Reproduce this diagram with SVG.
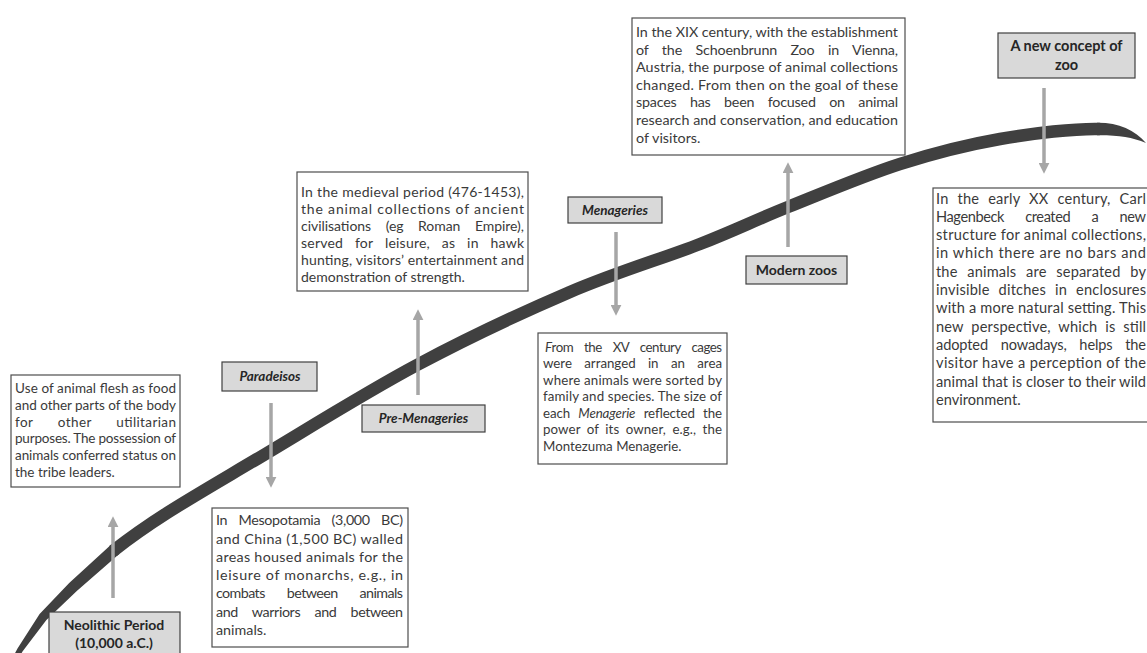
<svg xmlns="http://www.w3.org/2000/svg" width="1147" height="653" viewBox="0 0 1147 653">
<defs>
<style>
.t{font-family:Lato,"Liberation Sans",sans-serif;fill:#3a3a3a}
.box{fill:#ffffff;stroke:#4d4d4d;stroke-width:1.2}
.lab{fill:#d9d9d9;stroke:#404040;stroke-width:1.2}
.lt{font-family:Lato,"Liberation Sans",sans-serif;font-weight:bold;fill:#262626;text-anchor:middle}
.it{font-style:italic}
.arr{stroke:#a6a6a6;stroke-width:3.5;fill:none}
.tl{fill:#404040}
</style>
<marker id="ah" viewBox="0 0 10 10" refX="2" refY="5" markerWidth="11" markerHeight="11" markerUnits="userSpaceOnUse" orient="auto">
<path d="M0,0 L10,5 L0,10 z" fill="#a6a6a6"/>
</marker>
</defs>
<rect width="1147" height="653" fill="#ffffff"/>

<g id="timeline">
<path class="tl" d="M5.8,670.8 L17.5,648.4 L39.6,614.1 L69.2,583 L111.5,544.2 L119.3,554 L116.9,555.9 L76.8,591 L46.4,619.9 L22.5,651.6 L10.2,673.2 Z"/>
<path fill="none" stroke="#404040" stroke-width="12.5" d="M113,551 C128.7,538.7 143,528.3 167,513 C191,497.7 215.3,483.7 257,459 C298.7,434.3 364.8,392.8 417,365 C469.2,337.2 522.8,312.2 570,292 C617.2,271.8 663.7,258.2 700,244 C736.3,229.8 754.7,220.3 788,207 C821.3,193.7 864.7,175.3 900,164 C935.3,152.7 966.7,144.8 1000,139 C1033.3,133.2 1075.7,128.3 1100,129"/>
<path class="tl" d="M1097,122.8 C1118,122.5 1135,130 1146,143 C1132,137 1118,135 1097,135.2 Z"/>
</g>

<g id="connectors">
<line class="arr" x1="113" y1="598" x2="113" y2="525" marker-end="url(#ah)"/>
<line class="arr" x1="271" y1="403" x2="271" y2="479" marker-end="url(#ah)"/>
<line class="arr" x1="418" y1="395" x2="418" y2="318" marker-end="url(#ah)"/>
<line class="arr" x1="616" y1="232" x2="616" y2="307" marker-end="url(#ah)"/>
<line class="arr" x1="788" y1="247" x2="788" y2="171" marker-end="url(#ah)"/>
<line class="arr" x1="1044" y1="88" x2="1044" y2="165" marker-end="url(#ah)"/>
</g>

<g id="neolithic-label">
<rect class="lab" x="49" y="612" width="131" height="50"/>
<text class="lt" x="114" y="630" font-size="14">Neolithic Period</text>
<text class="lt" x="114" y="648" font-size="14">(10,000 a.C.)</text>
</g>

<g id="neolithic-text" font-size="13.5">
<rect class="box" x="11" y="375" width="169" height="112"/>
<text class="t" x="15" y="393" textLength="161" lengthAdjust="spacing">Use of animal flesh as food</text>
<text class="t" x="15" y="410" textLength="161" lengthAdjust="spacing">and other parts of the body</text>
<text class="t" x="15" y="426.5" textLength="161" lengthAdjust="spacing" style="word-spacing:21px">for other utilitarian</text>
<text class="t" x="15" y="443" textLength="161" lengthAdjust="spacing">purposes. The possession of</text>
<text class="t" x="15" y="460" textLength="161" lengthAdjust="spacing">animals conferred status on</text>
<text class="t" x="15" y="477">the tribe leaders.</text>
</g>

<g id="paradeisos-label">
<rect class="lab" x="222" y="362" width="95" height="29"/>
<text class="lt it" x="270" y="381" font-size="13.5">Paradeisos</text>
</g>

<g id="paradeisos-text" font-size="14.3">
<rect class="box" x="212" y="508" width="196" height="139"/>
<text class="t" x="216" y="525" textLength="187" lengthAdjust="spacing" style="word-spacing:8px">In Mesopotamia (3,000 BC)</text>
<text class="t" x="216" y="543.5" textLength="187" lengthAdjust="spacing">and China (1,500 BC) walled</text>
<text class="t" x="216" y="561.5" textLength="187" lengthAdjust="spacing">areas housed animals for the</text>
<text class="t" x="216" y="580" textLength="187" lengthAdjust="spacing">leisure of monarchs, e.g., in</text>
<text class="t" x="216" y="598" textLength="187" lengthAdjust="spacing" style="word-spacing:19px">combats between animals</text>
<text class="t" x="216" y="616.5" textLength="187" lengthAdjust="spacing" style="word-spacing:11px">and warriors and between</text>
<text class="t" x="216" y="634.5">animals.</text>
</g>

<g id="premenageries-label">
<rect class="lab" x="362" y="405" width="123" height="27"/>
<text class="lt it" x="423.5" y="423" font-size="13.5">Pre-Menageries</text>
</g>

<g id="premenageries-text" font-size="14">
<rect class="box" x="297" y="172" width="231" height="119"/>
<text class="t" x="301" y="197" textLength="223" lengthAdjust="spacing">In the medieval period (476-1453),</text>
<text class="t" x="301" y="214" textLength="223" lengthAdjust="spacing">the animal collections of ancient</text>
<text class="t" x="301" y="231" textLength="223" lengthAdjust="spacing" style="word-spacing:11px">civilisations (eg Roman Empire),</text>
<text class="t" x="301" y="248" textLength="223" lengthAdjust="spacing" style="word-spacing:8px">served for leisure, as in hawk</text>
<text class="t" x="301" y="265" textLength="223" lengthAdjust="spacing">hunting, visitors’ entertainment and</text>
<text class="t" x="301" y="282">demonstration of strength.</text>
</g>

<g id="menageries-label">
<rect class="lab" x="568" y="197" width="94" height="26"/>
<text class="lt it" x="615" y="215" font-size="13.5">Menageries</text>
</g>

<g id="menageries-text" font-size="13.3">
<rect class="box" x="538" y="333" width="189" height="131"/>
<text class="t" x="545" y="351.5" textLength="177" lengthAdjust="spacing" style="word-spacing:8px"><tspan class="it">F</tspan>rom the XV century cages</text>
<text class="t" x="543" y="368" textLength="179" lengthAdjust="spacing" style="word-spacing:9px">were arranged in an area</text>
<text class="t" x="543" y="384.5" textLength="179" lengthAdjust="spacing">where animals were sorted by</text>
<text class="t" x="543" y="401" textLength="179" lengthAdjust="spacing">family and species. The size of</text>
<text class="t" x="543" y="417.5" textLength="179" lengthAdjust="spacing" style="word-spacing:5px">each <tspan class="it">Menagerie</tspan> reflected the</text>
<text class="t" x="543" y="434" textLength="179" lengthAdjust="spacing" style="word-spacing:3px">power of its owner, e.g., the</text>
<text class="t" x="543" y="450.5">Montezuma Menagerie.</text>
</g>

<g id="modern-label">
<rect class="lab" x="746" y="256" width="101" height="28"/>
<text class="lt" x="796.5" y="275" font-size="14">Modern zoos</text>
</g>

<g id="modern-text" font-size="14.3">
<rect class="box" x="632" y="18" width="273" height="137"/>
<text class="t" x="636" y="37" textLength="262" lengthAdjust="spacing">In the XIX century, with the establishment</text>
<text class="t" x="636" y="54.6" textLength="262" lengthAdjust="spacing" style="word-spacing:10px">of the Schoenbrunn Zoo in Vienna,</text>
<text class="t" x="636" y="72.2" textLength="262" lengthAdjust="spacing">Austria, the purpose of animal collections</text>
<text class="t" x="636" y="89.8" textLength="262" lengthAdjust="spacing">changed. From then on the goal of these</text>
<text class="t" x="636" y="107.4" textLength="262" lengthAdjust="spacing" style="word-spacing:10px">spaces has been focused on animal</text>
<text class="t" x="636" y="125" textLength="262" lengthAdjust="spacing">research and conservation, and education</text>
<text class="t" x="636" y="142.6">of visitors.</text>
</g>

<g id="newconcept-label">
<rect class="lab" x="998" y="33" width="137" height="45"/>
<text class="lt" x="1066.5" y="51" font-size="14.5">A new concept of</text>
<text class="lt" x="1066.5" y="70" font-size="14.5">zoo</text>
</g>

<g id="newconcept-text" font-size="14.6">
<rect class="box" x="933" y="188" width="220" height="234"/>
<text class="t" x="936" y="203.5" textLength="210" lengthAdjust="spacing" style="word-spacing:5px">In the early XX century, Carl</text>
<text class="t" x="936" y="221.8" textLength="210" lengthAdjust="spacing" style="word-spacing:18px">Hagenbeck created a new</text>
<text class="t" x="936" y="240.1" textLength="210" lengthAdjust="spacing">structure for animal collections,</text>
<text class="t" x="936" y="258.4" textLength="210" lengthAdjust="spacing">in which there are no bars and</text>
<text class="t" x="936" y="276.7" textLength="210" lengthAdjust="spacing" style="word-spacing:6px">the animals are separated by</text>
<text class="t" x="936" y="295" textLength="210" lengthAdjust="spacing" style="word-spacing:5px">invisible ditches in enclosures</text>
<text class="t" x="936" y="313.3" textLength="210" lengthAdjust="spacing">with a more natural setting. This</text>
<text class="t" x="936" y="331.6" textLength="210" lengthAdjust="spacing" style="word-spacing:4px">new perspective, which is still</text>
<text class="t" x="936" y="349.9" textLength="210" lengthAdjust="spacing" style="word-spacing:9px">adopted nowadays, helps the</text>
<text class="t" x="936" y="368.2" textLength="210" lengthAdjust="spacing">visitor have a perception of the</text>
<text class="t" x="936" y="386.5" textLength="210" lengthAdjust="spacing">animal that is closer to their wild</text>
<text class="t" x="936" y="404.8">environment.</text>
</g>
</svg>
